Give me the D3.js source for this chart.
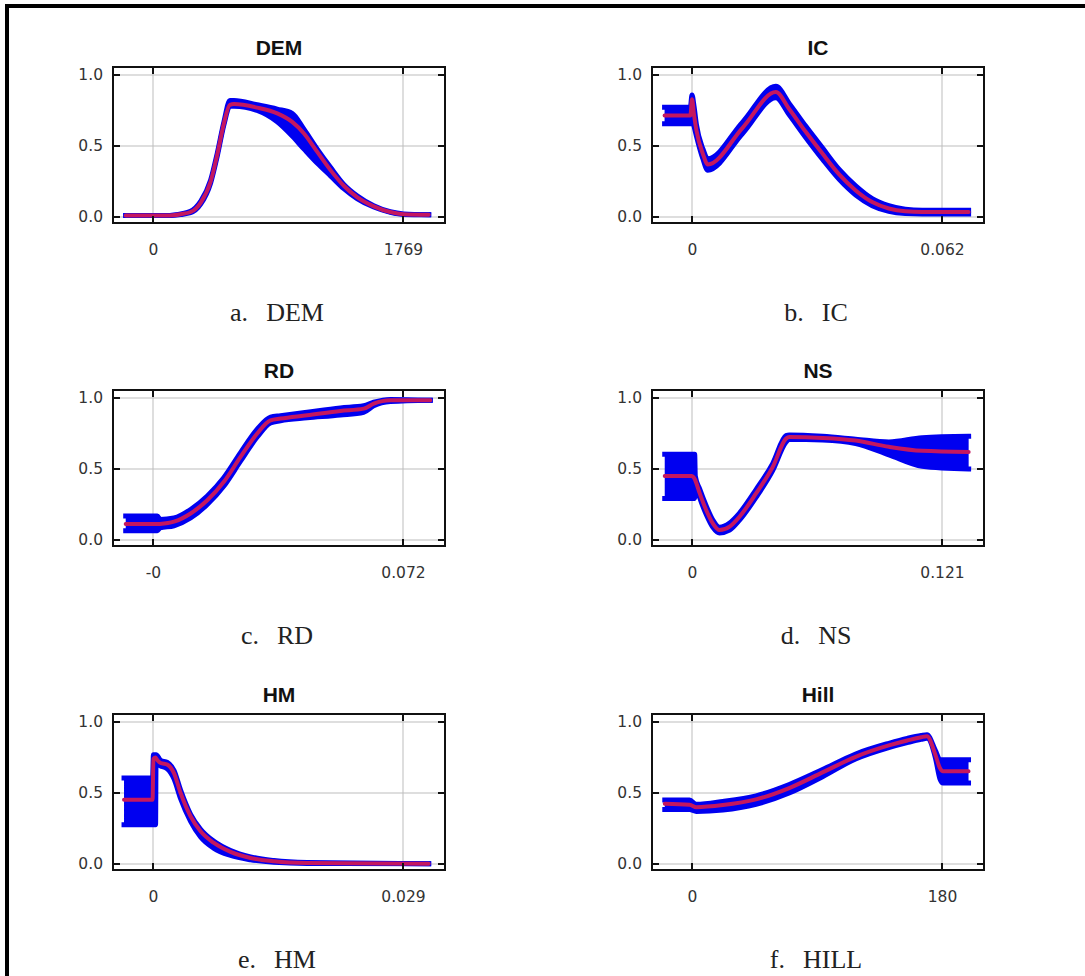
<!DOCTYPE html>
<html>
<head>
<meta charset="utf-8">
<script src="https://cdn.jsdelivr.net/npm/d3@7"></script>
<style>
  body { margin: 0; background: #fff; }
  svg { display: block; }
</style>
</head>
<body>
<svg id="chart" width="1085" height="976"></svg>
<script>
// panel titles, captions and x tick values
const titles = ["DEM", "IC", "RD", "NS", "HM", "Hill"];
const captionLetters = ["a.", "b.", "c.", "d.", "e.", "f."];
const captionNames = ["DEM", "IC", "RD", "NS", "HM", "HILL"];
const xMax = [1769, 0.062, 0.072, 0.121, 0.029, 180];
const xZeroText = ["0", "0", "-0", "0", "0", "0"];
const yTicks = [0, 0.5, 1];

// rows: [x, band low, mean, band high]
const demRows = [
  [-193, 0.01, 0.01, 0.01], [101, 0.01, 0.01, 0.01], [196, 0.018, 0.02, 0.022],
  [266, 0.03, 0.035, 0.04], [337, 0.09, 0.10, 0.11], [408, 0.24, 0.25, 0.26],
  [455, 0.43, 0.44, 0.45], [502, 0.65, 0.66, 0.67], [544, 0.78, 0.79, 0.82],
  [573, 0.78, 0.795, 0.82], [737, 0.75, 0.77, 0.79], [879, 0.67, 0.73, 0.76],
  [985, 0.57, 0.67, 0.73], [1067, 0.48, 0.59, 0.62], [1161, 0.38, 0.46, 0.48],
  [1256, 0.29, 0.33, 0.35], [1350, 0.20, 0.22, 0.23], [1444, 0.13, 0.14, 0.15],
  [1562, 0.07, 0.075, 0.08], [1679, 0.033, 0.035, 0.037], [1774, 0.018, 0.02, 0.022],
  [1951, 0.016, 0.016, 0.016]
];
const icRows = [
  [-0.0068, 0.656, 0.714, 0.773], [-0.0004, 0.656, 0.714, 0.773], [0.0000, 0.70, 0.83, 0.86],
  [0.0005, 0.64, 0.72, 0.78], [0.0011, 0.57, 0.61, 0.65], [0.0027, 0.41, 0.445, 0.48],
  [0.0039, 0.33, 0.37, 0.41], [0.0126, 0.59, 0.63, 0.67], [0.0208, 0.84, 0.88, 0.92],
  [0.0241, 0.72, 0.76, 0.80], [0.0282, 0.56, 0.60, 0.64], [0.0324, 0.405, 0.445, 0.485],
  [0.0365, 0.265, 0.30, 0.335], [0.0406, 0.155, 0.187, 0.22], [0.0447, 0.08, 0.105, 0.13],
  [0.0488, 0.04, 0.06, 0.08], [0.0529, 0.025, 0.04, 0.055], [0.0571, 0.022, 0.035, 0.048],
  [0.0686, 0.022, 0.035, 0.048]
];
const rdRows = [
  [-0.00786, 0.066, 0.112, 0.169], [0.00125, 0.066, 0.112, 0.169], [0.0020, 0.085, 0.113, 0.145],
  [0.00604, 0.10, 0.129, 0.155], [0.01083, 0.155, 0.187, 0.215], [0.01563, 0.25, 0.28, 0.31],
  [0.02042, 0.38, 0.41, 0.44], [0.02521, 0.555, 0.585, 0.615], [0.03001, 0.725, 0.75, 0.78],
  [0.03384, 0.825, 0.843, 0.865], [0.03672, 0.84, 0.855, 0.875], [0.04439, 0.86, 0.878, 0.90],
  [0.05397, 0.88, 0.909, 0.93], [0.06068, 0.90, 0.925, 0.945], [0.06356, 0.945, 0.96, 0.97],
  [0.06835, 0.975, 0.984, 0.99], [0.07986, 0.984, 0.984, 0.984]
];
const nsRows = [
  [-0.0132, 0.293, 0.45, 0.604], [-0.0003, 0.293, 0.45, 0.604], [0.0013, 0.293, 0.43, 0.604],
  [0.0016, 0.40, 0.42, 0.45], [0.0037, 0.30, 0.33, 0.36], [0.0069, 0.18, 0.21, 0.24],
  [0.0101, 0.09, 0.117, 0.14], [0.0133, 0.05, 0.07, 0.09], [0.0182, 0.07, 0.094, 0.12],
  [0.0230, 0.14, 0.164, 0.19], [0.0310, 0.30, 0.328, 0.355], [0.0391, 0.49, 0.515, 0.54],
  [0.0455, 0.69, 0.714, 0.735], [0.0471, 0.71, 0.726, 0.74], [0.0632, 0.705, 0.719, 0.73],
  [0.0792, 0.68, 0.70, 0.71], [0.0953, 0.60, 0.656, 0.69], [0.1114, 0.52, 0.628, 0.72],
  [0.1339, 0.50, 0.62, 0.73]
];
const hmRows = [
  [-0.00336, 0.277, 0.453, 0.606], [-0.00005, 0.277, 0.453, 0.606], [0.00005, 0.277, 0.74, 0.77],
  [0.00030, 0.277, 0.75, 0.77], [0.00035, 0.70, 0.745, 0.77], [0.00089, 0.69, 0.711, 0.73],
  [0.00166, 0.67, 0.70, 0.715], [0.00243, 0.60, 0.64, 0.66], [0.00320, 0.46, 0.50, 0.52],
  [0.00436, 0.30, 0.336, 0.35], [0.00552, 0.19, 0.23, 0.245], [0.00707, 0.11, 0.148, 0.16],
  [0.00900, 0.06, 0.085, 0.095], [0.01131, 0.03, 0.042, 0.05], [0.01402, 0.012, 0.019, 0.024],
  [0.01788, 0.004, 0.007, 0.01], [0.03198, 0.002, 0.002, 0.002]
];
const hillRows = [
  [-19.6, 0.383, 0.425, 0.45], [-1.7, 0.383, 0.418, 0.45], [3.1, 0.37, 0.40, 0.42],
  [22.2, 0.38, 0.415, 0.44], [46.1, 0.42, 0.455, 0.48], [70.0, 0.50, 0.535, 0.56],
  [94.0, 0.615, 0.645, 0.665], [117.8, 0.74, 0.755, 0.775], [141.7, 0.82, 0.835, 0.85],
  [155.0, 0.855, 0.87, 0.885], [165.0, 0.878, 0.893, 0.905], [169.2, 0.885, 0.90, 0.91],
  [175.2, 0.75, 0.77, 0.80], [178.5, 0.60, 0.676, 0.735], [180.7, 0.57, 0.653, 0.735],
  [199.1, 0.57, 0.653, 0.735]
];
const panelRows = [demRows, icRows, rdRows, nsRows, hmRows, hillRows];

// layout
const colLeft = [113, 652], rowTop = [67, 390, 714];
const boxW = 332, boxH = 156;
const blue = "#0000f0", red = "#c4175f";

const svg = d3.select("#chart");
svg.append("rect").attr("width", 1085).attr("height", 976).attr("fill", "#fff");
// page frame (top and left only)
svg.append("rect").attr("x", 5).attr("y", 4).attr("width", 1080).attr("height", 4).attr("fill", "#000");
svg.append("rect").attr("x", 5).attr("y", 4).attr("width", 4).attr("height", 972).attr("fill", "#000");

titles.forEach((title, i) => {
  const left = colLeft[i % 2], top = rowTop[Math.floor(i / 2)];
  const g = svg.append("g").attr("transform", `translate(${left},${top})`);

  const x = d3.scaleLinear().domain([0, xMax[i]]).range([40, 290]);
  const y = d3.scaleLinear().domain([0, 1]).range([150, 8]);

  // grid
  g.selectAll(".gx").data([0, xMax[i]]).join("line")
    .attr("x1", d => x(d)).attr("x2", d => x(d)).attr("y1", 0).attr("y2", boxH)
    .attr("stroke", "#bdbdbd").attr("stroke-width", 1);
  g.selectAll(".gy").data(yTicks).join("line")
    .attr("x1", 0).attr("x2", boxW).attr("y1", d => y(d)).attr("y2", d => y(d))
    .attr("stroke", "#bdbdbd").attr("stroke-width", 1);

  const rows = panelRows[i];
  const curve = d3.curveMonotoneX;
  g.append("path").datum(rows)
    .attr("d", d3.area().x(d => x(d[0])).y0(d => y(d[1])).y1(d => y(d[3])).curve(curve))
    .attr("fill", blue);
  [1, 3].forEach(k => {
    g.append("path").datum(rows)
      .attr("d", d3.line().x(d => x(d[0])).y(d => y(d[k])).curve(curve))
      .attr("fill", "none").attr("stroke", blue).attr("stroke-width", 5)
      .attr("stroke-linejoin", "round").attr("stroke-linecap", "square");
  });
  g.append("path").datum(rows)
    .attr("d", d3.line().x(d => x(d[0])).y(d => y(d[2])).curve(curve))
    .attr("fill", "none").attr("stroke", red).attr("stroke-width", 4)
    .attr("stroke-linejoin", "round").attr("stroke-linecap", "round");

  // box and inner ticks on all sides
  g.append("rect").attr("width", boxW).attr("height", boxH)
    .attr("fill", "none").attr("stroke", "#111").attr("stroke-width", 2);
  const tk = 7;
  g.selectAll(".ty").data(yTicks).join("g").each(function(d) {
    const s = d3.select(this);
    s.append("line").attr("x1", 0).attr("x2", tk).attr("y1", y(d)).attr("y2", y(d));
    s.append("line").attr("x1", boxW - tk).attr("x2", boxW).attr("y1", y(d)).attr("y2", y(d));
  }).attr("stroke", "#111").attr("stroke-width", 2);
  g.selectAll(".tx").data([0, xMax[i]]).join("g").each(function(d) {
    const s = d3.select(this);
    s.append("line").attr("x1", x(d)).attr("x2", x(d)).attr("y1", 0).attr("y2", tk);
    s.append("line").attr("x1", x(d)).attr("x2", x(d)).attr("y1", boxH - tk).attr("y2", boxH);
  }).attr("stroke", "#111").attr("stroke-width", 2);

  // axes labels
  const xAxis = d3.axisBottom(x).tickValues([0, xMax[i]])
    .tickFormat((d, j) => j === 0 ? xZeroText[i] : String(xMax[i]))
    .tickSize(0).tickPadding(21);
  const ax = g.append("g").attr("transform", `translate(0,${boxH})`).call(xAxis);
  const yAxis = d3.axisLeft(y).tickValues(yTicks).tickFormat(d3.format(".1f"))
    .tickSize(0).tickPadding(10);
  const ay = g.append("g").call(yAxis);
  [ax, ay].forEach(a => {
    a.select(".domain").remove();
    a.selectAll("text").attr("font-family", "DejaVu Sans").attr("font-size", 15.5)
      .attr("fill", "#333");
  });

  g.append("text").attr("x", boxW / 2).attr("y", -12).attr("text-anchor", "middle")
    .attr("font-family", "Liberation Sans, Arial").attr("font-weight", "bold")
    .attr("font-size", 21).attr("fill", "#111").text(title);

  const cap = g.append("text").attr("x", boxW / 2 - 2).attr("y", 254).attr("text-anchor", "middle")
    .attr("font-family", "Liberation Serif, serif").attr("font-size", 26).attr("fill", "#222");
  cap.append("tspan").text(captionLetters[i]);
  cap.append("tspan").attr("dx", 18).text(captionNames[i]);
});
</script>
</body>
</html>
